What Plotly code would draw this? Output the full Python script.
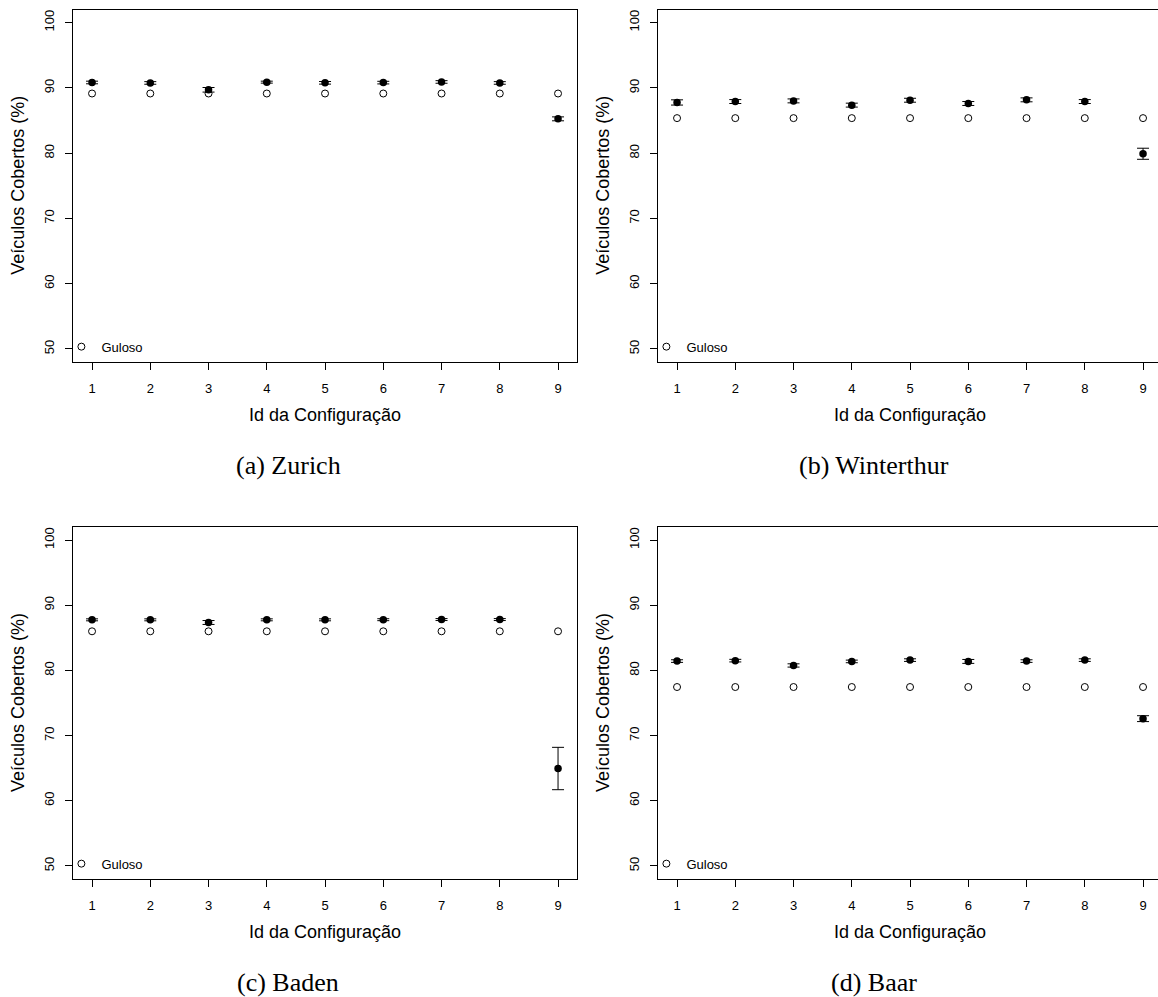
import plotly.graph_objects as go

config_ids = [1, 2, 3, 4, 5, 6, 7, 8, 9]

zurich_mean = [90.82, 90.75, 89.70, 90.87, 90.77, 90.80, 90.90, 90.75, 85.25]
zurich_err = [0.20, 0.20, 0.35, 0.15, 0.20, 0.20, 0.20, 0.20, 0.30]
zurich_greedy = [89.13] * 9

winterthur_mean = [87.76, 87.90, 88.00, 87.35, 88.10, 87.60, 88.16, 87.90, 79.90]
winterthur_err = [0.40, 0.30, 0.30, 0.30, 0.30, 0.30, 0.30, 0.30, 0.85]
winterthur_greedy = [85.36] * 9

baden_mean = [87.76, 87.76, 87.35, 87.76, 87.76, 87.78, 87.80, 87.80, 64.95]
baden_err = [0.15, 0.15, 0.30, 0.15, 0.15, 0.15, 0.15, 0.15, 3.25]
baden_greedy = [86.0] * 9

baar_mean = [81.43, 81.50, 80.76, 81.38, 81.58, 81.38, 81.43, 81.58, 72.60]
baar_err = [0.20, 0.20, 0.25, 0.20, 0.20, 0.30, 0.20, 0.20, 0.45]
baar_greedy = [77.45] * 9

captions = ["(a) Zurich", "(b) Winterthur", "(c) Baden", "(d) Baar"]
y_ticks = [50, 60, 70, 80, 90, 100]
x_title = "Id da Configuração"
y_title = "Veículos Cobertos (%)"
legend_label = "Guloso"

W, H = 1158, 997
SANS = "Liberation Sans, Arial, Helvetica, sans-serif"
SERIF = "Liberation Serif, Times New Roman, serif"

panels = [
    dict(mean=zurich_mean, err=zurich_err, greedy=zurich_greedy),
    dict(mean=winterthur_mean, err=winterthur_err, greedy=winterthur_greedy),
    dict(mean=baden_mean, err=baden_err, greedy=baden_greedy),
    dict(mean=baar_mean, err=baar_err, greedy=baar_greedy),
]

# pixel geometry of the plot boxes (left, right, top, bottom)
px_unit = 58.25
boxes = [
    (73.4, 576.6, 9.5, 362.0),
    (658.4, 1158.0, 9.5, 362.0),
    (73.4, 576.6, 527.0, 879.0),
    (658.4, 1158.0, 527.0, 879.0),
]

fig = go.Figure()
layout = dict(
    width=W, height=H,
    margin=dict(l=0, r=0, t=0, b=0),
    paper_bgcolor="white", plot_bgcolor="white",
    font=dict(family=SANS, color="black"),
    annotations=[],
)

for i, (p, box) in enumerate(zip(panels, boxes)):
    n = i + 1
    xa = "x" if n == 1 else f"x{n}"
    ya = "y" if n == 1 else f"y{n}"
    lg = "legend" if n == 1 else f"legend{n}"
    l, r, t, b = box
    fig.add_trace(go.Scatter(
        x=config_ids, y=p["greedy"], mode="markers", name=legend_label,
        marker=dict(symbol="circle-open", size=7, color="black", line=dict(width=1, color="black")),
        xaxis=xa, yaxis=ya, legend=lg, showlegend=True,
    ))
    fig.add_trace(go.Scatter(
        x=config_ids, y=p["mean"], mode="markers", showlegend=False,
        marker=dict(symbol="circle", size=7.5, color="black"),
        error_y=dict(type="data", array=p["err"], visible=True, color="black", thickness=1, width=6),
        xaxis=xa, yaxis=ya,
    ))
    x_end = 0.68 + (r - l) / px_unit
    full = r < W - 1
    layout[f"xaxis{'' if n == 1 else n}"] = dict(
        domain=[l / W, r / W], range=[0.68, x_end], anchor=ya,
        tickmode="array", tickvals=config_ids, ticktext=[str(c) for c in config_ids],
        ticks="outside", ticklen=7, tickwidth=1, tickcolor="black",
        showline=True, linecolor="black", linewidth=1, mirror=True,
        showgrid=False, zeroline=False, ticklabelstandoff=7,
        tickfont=dict(family=SANS, size=13, color="black"),
    )
    layout[f"yaxis{'' if n == 1 else n}"] = dict(
        domain=[1 - b / H, 1 - t / H], range=[48, 102], anchor=xa,
        tickmode="array", tickvals=y_ticks, ticktext=[str(v) for v in y_ticks],
        ticks="outside", ticklen=7, tickwidth=1, tickcolor="black", tickangle=-90,
        showline=True, linecolor="black", linewidth=1, mirror=full,
        showgrid=False, zeroline=False, ticklabelstandoff=6,
        tickfont=dict(family=SANS, size=13, color="black"),
    )
    # legend inside plot bottom-left
    layout[lg] = dict(
        x=(l - 12) / W, y=1 - (b - 15.3) / H, xanchor="left", yanchor="middle",
        bgcolor="rgba(0,0,0,0)", borderwidth=0, itemwidth=30,
        font=dict(family=SANS, size=13, color="black"),
    )
    cx = l + (576.6 - 73.4) / 2
    cy = (t + b) / 2
    layout["annotations"].append(dict(
        x=cx / W, y=1 - (b + 53) / H, xref="paper", yref="paper", text=x_title,
        showarrow=False, xanchor="center", yanchor="middle",
        font=dict(family=SANS, size=18, color="black"),
    ))
    layout["annotations"].append(dict(
        x=(l - 55.4) / W, y=1 - cy / H, xref="paper", yref="paper", text=y_title,
        showarrow=False, xanchor="center", yanchor="middle", textangle=-90,
        font=dict(family=SANS, size=18, color="black"),
    ))
    cap_x = 288 if n in (1, 3) else 874
    layout["annotations"].append(dict(
        x=cap_x / W, y=1 - (b + 103) / H, xref="paper", yref="paper", text=captions[i],
        showarrow=False, xanchor="center", yanchor="middle",
        font=dict(family=SERIF, size=26, color="black"),
    ))

fig.update_layout(**layout)
fig.write_html("out.html")
